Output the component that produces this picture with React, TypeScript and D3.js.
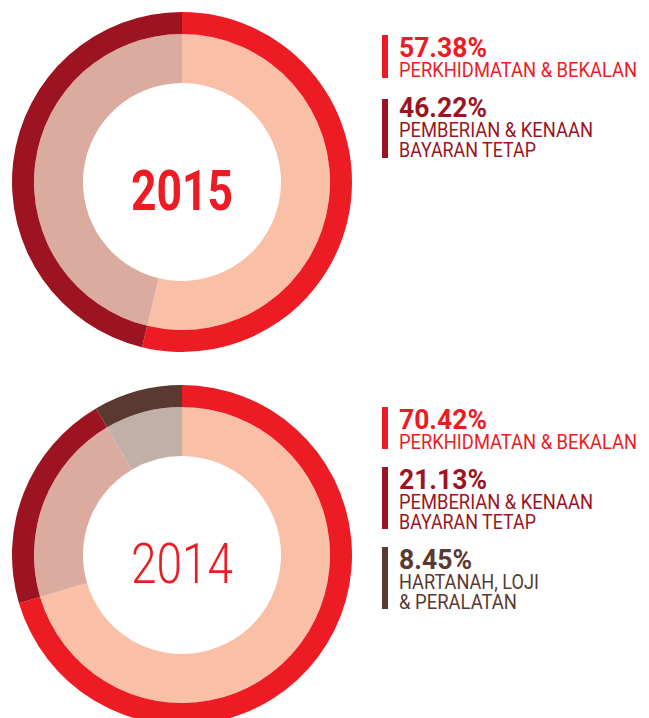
import * as d3 from 'd3';
import React, { useRef, useEffect } from 'react';

// legend figures as printed
const categories = ['PERKHIDMATAN & BEKALAN', 'PEMBERIAN & KENAAN BAYARAN TETAP', 'HARTANAH, LOJI & PERALATAN'];
const values2015 = [57.38, 46.22];
const values2014 = [70.42, 21.13, 8.45];
// ring shares as drawn (2015 ring gives red whatever dark red leaves)
const shares2015 = [53.78, 46.22];
const shares2014 = [70.42, 21.13, 8.45];
const years = ['2015', '2014'];

const strong = ['#ed1c24', '#9c1421', '#5a3930'];
const light = ['#fabfa7', '#dcaba0', '#c1afa8'];

// label lines of each category
const labelLines = [
    ['PERKHIDMATAN & BEKALAN'],
    ['PEMBERIAN & KENAAN', 'BAYARAN TETAP'],
    ['HARTANAH, LOJI', '& PERALATAN'],
];

function App() {
    const width = 649;
    const height = 718;
    const ref = useRef(null);

    // measured widths of the label lines
    const lineWidths = [[238], [194, 137], [140, 118]];

    useEffect(() => {
        const svg = d3.select(ref.current);
        svg.selectAll('*').remove();

        const cx = 182;
        const rOuter = 170;
        const rMid = 148;
        const rInner = 99;

        const pie = d3.pie().sort(null).value(d => d).startAngle(0).endAngle(2 * Math.PI);
        const outerArc = d3.arc().innerRadius(rMid).outerRadius(rOuter);
        const innerArc = d3.arc().innerRadius(rInner).outerRadius(rMid);

        const donuts = [
            {
                year: years[0], cy: 182, shares: shares2015, values: values2015, weight: 700,
                blocks: [{ top: 35, drop: 22, bar: 43 }, { top: 99, drop: 18, bar: 59 }],
            },
            {
                year: years[1], cy: 555, shares: shares2014, values: values2014, weight: 300,
                blocks: [{ top: 407, drop: 22, bar: 42 }, { top: 467, drop: 22, bar: 62 }, { top: 547, drop: 22, bar: 62 }],
            },
        ];

        donuts.forEach(dn => {
            const g = svg.append('g').attr('transform', `translate(${cx},${dn.cy})`);
            const arcs = pie(dn.shares);

            g.selectAll('path.inner')
                .data(arcs)
                .enter()
                .append('path')
                .attr('class', 'inner')
                .attr('d', innerArc)
                .attr('fill', (d, i) => light[i]);

            g.selectAll('path.outer')
                .data(arcs)
                .enter()
                .append('path')
                .attr('class', 'outer')
                .attr('d', outerArc)
                .attr('fill', (d, i) => strong[i]);

            g.append('text')
                .attr('x', 0)
                .attr('y', 28)
                .attr('text-anchor', 'middle')
                .attr('font-family', 'Roboto, sans-serif')
                .attr('font-size', 56)
                .attr('font-weight', dn.weight)
                .attr('fill', strong[0])
                .attr('textLength', 102)
                .attr('lengthAdjust', 'spacingAndGlyphs')
                .text(dn.year);

            // legend
            const lg = svg.append('g').attr('transform', 'translate(382,0)');
            dn.values.forEach((v, i) => {
                const b = dn.blocks[i];
                const lines = labelLines[i];
                lg.append('rect')
                    .attr('x', 0)
                    .attr('y', b.top)
                    .attr('width', 6)
                    .attr('height', b.bar)
                    .attr('fill', strong[i]);
                const label = d3.format('.2f')(v) + '%';
                lg.append('text')
                    .attr('x', 17)
                    .attr('y', b.top + b.drop)
                    .attr('font-family', 'Roboto, sans-serif')
                    .attr('font-size', 27)
                    .attr('font-weight', 700)
                    .attr('fill', strong[i])
                    .attr('textLength', label.length === 6 ? 88 : 73)
                    .attr('lengthAdjust', 'spacingAndGlyphs')
                    .text(label);
                lines.forEach((ln, j) => {
                    lg.append('text')
                        .attr('x', 17)
                        .attr('y', b.top + b.drop + 20 + j * 19.5)
                        .attr('font-family', 'Roboto, sans-serif')
                        .attr('font-size', 20)
                        .attr('fill', strong[i])
                        .attr('textLength', lineWidths[i][j])
                        .attr('lengthAdjust', 'spacingAndGlyphs')
                        .text(ln);
                });
            });
        });
    }, []);

    return (
        <div style={{ position: 'absolute', left: 0, top: 0, width, height }}>
            <svg ref={ref} width={width} height={height} style={{ display: 'block', background: '#fff' }} aria-label={categories.join(', ')}></svg>
        </div>
    );
}

export default App;
